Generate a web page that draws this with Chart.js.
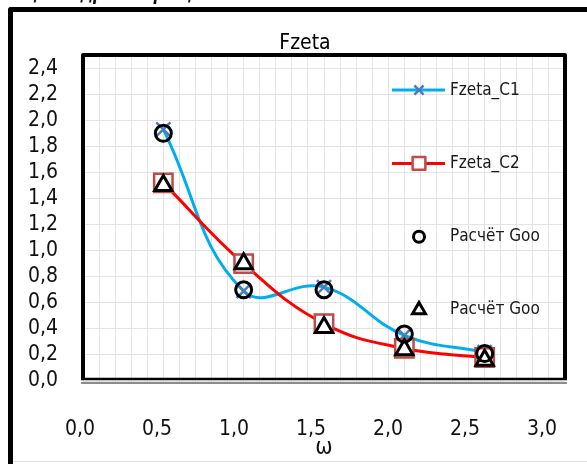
<!DOCTYPE html>
<html><head><meta charset="utf-8">
<script src="https://cdn.jsdelivr.net/npm/chart.js@4/dist/chart.umd.min.js"></script>
<style>html,body{margin:0;padding:0;background:#fff;overflow:hidden}canvas{display:block}</style>
</head><body>
<canvas id="c" width="587" height="464"></canvas>
<script>
// ---- data ----
const omega       = [0.5, 1.0, 1.5, 2.0, 2.5];
const fzetaC1     = [1.93, 0.69, 0.72, 0.35, 0.22];
const fzetaC2     = [1.52, 0.90, 0.44, 0.25, 0.18];
const gooCircle   = [1.90, 0.70, 0.70, 0.36, 0.21];
const gooTriangle = [1.50, 0.90, 0.41, 0.24, 0.16];
const xTickValues = [0, 0.5, 1.0, 1.5, 2.0, 2.5, 3.0];
const seriesNames = ['Fzeta_C1', 'Fzeta_C2', 'Расчёт Goo', 'Расчёт Goo'];
const chartTitle  = 'Fzeta';
const xAxisTitle  = 'ω';
const headerText  = 'цилиндров с вращением  с Goo';

const FONT = "'DejaVu Sans Condensed', 'Liberation Sans Narrow', 'DejaVu Sans', sans-serif";
const pts = arr => omega.map((x, i) => ({x, y: arr[i]}));
const fmt = v => Number(v).toFixed(1).replace('.', ',');

function mark(ctx, style, x, y, r, stroke, fill, lw) {
  ctx.save();
  ctx.lineWidth = lw; ctx.strokeStyle = stroke; ctx.beginPath();
  if (style === 'crossRot') {
    const d = r * Math.SQRT1_2;
    ctx.moveTo(x - d, y - d); ctx.lineTo(x + d, y + d);
    ctx.moveTo(x + d, y - d); ctx.lineTo(x - d, y + d);
    ctx.stroke();
  } else if (style === 'rect') {
    const s = r * Math.SQRT1_2;
    ctx.rect(x - s, y - s, 2 * s, 2 * s);
    if (fill) { ctx.fillStyle = fill; ctx.fill(); }
    ctx.stroke();
  } else if (style === 'circle') {
    ctx.arc(x, y, r, 0, Math.PI * 2);
    ctx.stroke();
  } else if (style === 'triangle') {
    ctx.lineJoin = 'miter';
    ctx.moveTo(x, y - r);
    ctx.lineTo(x + r * Math.sin(Math.PI * 2 / 3), y + r / 2);
    ctx.lineTo(x - r * Math.sin(Math.PI * 2 / 3), y + r / 2);
    ctx.closePath();
    ctx.stroke();
  }
  ctx.restore();
}

const decor = {
  id: 'decor',
  beforeDraw(chart) {
    const ctx = chart.ctx;
    ctx.save();
    ctx.fillStyle = '#fff';
    ctx.fillRect(0, 0, chart.width, chart.height);
    // header text (cut off at the top)
    ctx.fillStyle = '#111';
    ctx.font = "italic bold 17px 'DejaVu Sans Condensed', 'DejaVu Sans', sans-serif";
    ctx.textBaseline = 'alphabetic';
    ctx.fillText(headerText, 26, 0);
    // outer frame
    ctx.strokeStyle = '#000'; ctx.lineWidth = 5; ctx.lineJoin = 'round';
    ctx.beginPath();
    ctx.moveTo(10.5, 470); ctx.lineTo(10.5, 9.5); ctx.lineTo(600, 9.5);
    ctx.stroke();
    ctx.strokeStyle = '#e2e2e2'; ctx.lineWidth = 1;
    ctx.beginPath(); ctx.moveTo(13, 461.5); ctx.lineTo(587, 461.5); ctx.stroke();
    ctx.restore();
  },
  afterDatasetsDraw(chart) {
    const ctx = chart.ctx, a = chart.chartArea;
    ctx.save();
    // plot frame
    ctx.strokeStyle = '#000'; ctx.lineWidth = 4; ctx.lineJoin = 'round';
    ctx.beginPath();
    ctx.moveTo(a.left, a.bottom - 2); ctx.lineTo(a.left, a.top); ctx.lineTo(a.right, a.top); ctx.lineTo(a.right, a.bottom - 2);
    ctx.stroke();
    ctx.lineWidth = 2.5;
    ctx.beginPath(); ctx.moveTo(a.left - 2, a.bottom - 2); ctx.lineTo(a.right + 2, a.bottom - 2); ctx.stroke();
    ctx.strokeStyle = '#8c8c8c'; ctx.lineWidth = 2;
    ctx.beginPath(); ctx.moveTo(a.left - 2, a.bottom + 2); ctx.lineTo(a.right + 2, a.bottom + 2); ctx.stroke();
    // legend
    const lx0 = a.right - 173, lx1 = a.right - 120, mx = a.right - 146, tx = a.right - 115;
    const legendR = [6.5, 9, 5.5, 7.5];
    chart.data.datasets.forEach((d, i) => {
      const y = a.top + 35 + i * 73.3;
      if (d.showLine !== false) {
        ctx.strokeStyle = d.borderColor; ctx.lineWidth = d.borderWidth;
        ctx.beginPath(); ctx.moveTo(lx0, y); ctx.lineTo(lx1, y); ctx.stroke();
      }
      mark(ctx, d.pointStyle, mx, y, legendR[i], d.pointBorderColor, d.pointBackgroundColor, Math.min(d.pointBorderWidth, 3));
      ctx.fillStyle = '#1a1a1a';
      ctx.font = '17px ' + FONT;
      ctx.textBaseline = 'middle'; ctx.textAlign = 'left';
      ctx.fillText(d.label, tx, y);
    });
    ctx.restore();
  }
};

new Chart(document.getElementById('c'), {
  type: 'line',
  data: {
    datasets: [
      { label: seriesNames[0], data: pts(fzetaC1), borderColor: '#00AEEF', borderWidth: 3, tension: 0.42,
        pointStyle: 'crossRot', pointRadius: 10, pointBorderWidth: 2.5, pointBorderColor: '#4A7EBB',
        pointBackgroundColor: 'rgba(0,0,0,0)', order: 4 },
      { label: seriesNames[1], data: pts(fzetaC2), borderColor: '#FF0000', borderWidth: 3, tension: 0.42,
        pointStyle: 'rect', pointRadius: 13, pointBorderWidth: 2.5, pointBorderColor: '#BE4B48',
        pointBackgroundColor: '#ffffff', order: 3 },
      { label: seriesNames[2], data: pts(gooCircle), showLine: false,
        pointStyle: 'circle', pointRadius: 8, pointBorderWidth: 3, pointBorderColor: '#000',
        pointBackgroundColor: 'rgba(0,0,0,0)', borderColor: '#000', order: 2 },
      { label: seriesNames[3], data: pts(gooTriangle), showLine: false,
        pointStyle: 'triangle', pointRadius: 10, pointBorderWidth: 3, pointBorderColor: '#000',
        pointBackgroundColor: 'rgba(0,0,0,0)', borderColor: '#000', order: 1 }
    ]
  },
  options: {
    responsive: false, animation: false, devicePixelRatio: 1,
    layout: { padding: { left: 25, right: 2, top: 1, bottom: 0 } },
    plugins: {
      legend: { display: false },
      tooltip: { enabled: false },
      title: { display: true, text: chartTitle, color: '#000',
               font: { family: FONT, size: 21, lineHeight: 1.1, weight: 'normal' },
               padding: { top: 31, bottom: 0 } }
    },
    scales: {
      x: { type: 'linear', min: 0, max: 3, position: 'bottom',
           ticks: { display: false, stepSize: 0.1 },
           grid: { color: '#e3e3e3', lineWidth: 1, drawTicks: false },
           border: { display: false },
           afterFit: s => { s.height = 0; s.paddingLeft = 0; s.paddingRight = 0; } },
      x2: { type: 'linear', position: 'bottom', min: 0.0195, max: 3.149, bounds: 'data',
            grid: { display: false, drawTicks: false }, border: { display: false },
            afterBuildTicks: s => { s.ticks = xTickValues.map(v => ({ value: v })); },
            ticks: { autoSkip: false, maxRotation: 0, padding: 36, color: '#111',
                     font: { family: FONT, size: 21 }, callback: v => fmt(v) },
            title: { display: true, text: xAxisTitle, color: '#111',
                     font: { family: FONT, size: 23 }, padding: { top: 0, bottom: 2 } },
            afterFit: s => { s.height = 83; s.paddingLeft = 0; s.paddingRight = 0; } },
      y: { type: 'linear', min: 0, max: 2.5,
           ticks: { stepSize: 0.2, includeBounds: false, autoSkip: false, padding: 25, color: '#111',
                    font: { family: FONT, size: 21 }, callback: v => fmt(v) },
           grid: { color: '#e3e3e3', lineWidth: 1, drawTicks: false },
           border: { display: false },
           afterFit: s => { s.width = 58; s.paddingTop = 0; s.paddingBottom = 0; } },
      yR: { type: 'linear', position: 'right', min: 0, max: 1,
            grid: { display: false, drawTicks: false }, border: { display: false },
            ticks: { display: false },
            afterFit: s => { s.width = 20; s.paddingTop = 0; s.paddingBottom = 0; } }
    }
  },
  plugins: [decor]
});
</script>
</body></html>
